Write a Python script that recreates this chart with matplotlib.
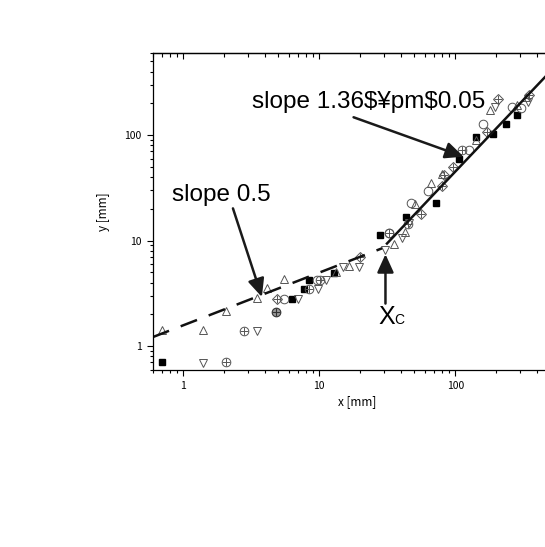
import numpy as np
import matplotlib
matplotlib.use("Agg")
import matplotlib.pyplot as plt
from matplotlib.ticker import FixedLocator, LogLocator, NullFormatter

plt.rcParams['font.family'] = ['Noto Sans CJK JP', 'DejaVu Sans']

# data (x, y in mm)
sq_x = [0.70, 6.3, 7.7, 8.4, 12.8, 27.8, 43.4, 72, 106, 142, 189, 235, 283]
sq_y = [0.70, 2.82, 3.5, 4.2, 4.9, 11.2, 16.8, 22.5, 59, 95, 102, 127, 155]

tri_up_x = [0.70, 1.40, 2.08, 3.5, 4.14, 5.54, 13.4, 16.7, 35.6, 42.9, 50.8, 66.5, 80, 142, 180, 283, 330]
tri_up_y = [1.43, 1.43, 2.14, 2.86, 3.59, 4.3, 5.0, 5.7, 9.2, 12.1, 22.2, 34.8, 43, 90, 173, 193, 232]

tri_dn_x = [1.40, 3.5, 7.0, 9.8, 11.2, 15.1, 19.5, 30.6, 40.5, 46, 194, 339]
tri_dn_y = [0.69, 1.39, 2.8, 3.5, 4.2, 5.6, 5.6, 8.2, 10.5, 14.7, 186, 208]

circ_x = [5.54, 9.6, 32.4, 47.2, 63, 125, 161, 260, 306]
circ_y = [2.82, 4.2, 11.8, 22.5, 29.5, 73, 127, 186, 180]

ocross_x = [2.08, 2.79, 8.4, 10.2, 32.4, 45.3, 112]
ocross_y = [0.70, 1.39, 3.5, 4.2, 11.8, 14.5, 73]
ocross_fill_x = [4.84]
ocross_fill_y = [2.1]

dcross_x = [4.9, 20, 55.8, 80, 82, 96, 171, 207, 345]
dcross_y = [2.78, 7.0, 17.7, 32.9, 41.8, 50, 108, 219, 240]

# fitted power laws
slope_low = 0.5
coef_low = 1.57
x_low = [0.6, 29]
slope_high = 1.36
x_c, y_c = 31.5, 9.38
x_high = [31.5, 600]

xlim = (0.6, 600)
ylim = (0.6, 600)
decades = [1, 10, 100]

fig = plt.figure(figsize=(5.45, 5.47), dpi=100)
ax = fig.add_axes([152.7 / 545, 177.5 / 547, 408.6 / 545, 316.5 / 547])
ax.set_xscale('log')
ax.set_yscale('log')
ax.set_xlim(*xlim)
ax.set_ylim(*ylim)

gray = '#555555'
ms = 6.2
ax.plot(sq_x, sq_y, 's', ms=5, mfc='black', mec='black', ls='none')
ax.plot(tri_up_x, tri_up_y, '^', ms=ms, mfc='none', mec=gray, mew=0.7, ls='none')
ax.plot(tri_dn_x, tri_dn_y, 'v', ms=ms, mfc='none', mec=gray, mew=0.7, ls='none')
ax.plot(circ_x, circ_y, 'o', ms=ms, mfc='none', mec=gray, mew=0.7, ls='none')
ax.plot(ocross_x, ocross_y, 'o', ms=ms, mfc='none', mec=gray, mew=0.7, ls='none')
ax.plot(ocross_x, ocross_y, '+', ms=ms, mec=gray, mew=0.7, ls='none')
ax.plot(ocross_fill_x, ocross_fill_y, 'o', ms=ms, mfc='#999999', mec='#333333', mew=0.8, ls='none')
ax.plot(ocross_fill_x, ocross_fill_y, '+', ms=ms, mec='#333333', mew=0.8, ls='none')
ax.plot(dcross_x, dcross_y, 'D', ms=5.2, mfc='none', mec=gray, mew=0.7, ls='none')
ax.plot(dcross_x, dcross_y, '+', ms=ms, mec=gray, mew=0.7, ls='none')

xl = np.array(x_low)
ax.plot(xl, coef_low * xl ** slope_low, color='#111111', lw=1.8, ls=(0, (7, 5)))
xh = np.array(x_high)
ax.plot(xh, y_c * (xh / x_c) ** slope_high, color='#111111', lw=1.8)

label_font = ['Liberation Sans', 'DejaVu Sans']
arrow = dict(arrowstyle='-|>,head_length=0.55,head_width=0.25', lw=1.8,
             color='#1a1a1a', mutation_scale=20, shrinkA=0, shrinkB=0)
ax.text(1.93, 27.0, 'slope 0.5', fontsize=17.5, ha='center', va='center',
        family=label_font)
ax.annotate('', xy=(3.80, 2.92), xytext=(2.33, 20.2), arrowprops=arrow)
ax.text(22.9, 206, 'slope 1.36$¥pm$0.05', fontsize=17.5, ha='center', va='center',
        family=label_font, parse_math=False)
ax.annotate('', xy=(115, 62.4), xytext=(17.9, 147.6), arrowprops=arrow)
ax.text(31.5, 1.89, 'X', fontsize=18, ha='center', va='center', family=label_font)
ax.text(35.8, 1.76, 'C', fontsize=10, ha='left', va='center', family=label_font)
ax.annotate('', xy=(30.7, 7.43), xytext=(30.7, 2.53), arrowprops=arrow)

# ticks
for axis in (ax.xaxis, ax.yaxis):
    axis.set_major_locator(FixedLocator(decades))
    axis.set_minor_locator(LogLocator(base=10, subs=np.arange(2, 10)))
    axis.set_minor_formatter(NullFormatter())
ax.set_xticklabels([str(d) for d in decades])
ax.set_yticklabels([str(d) for d in decades])
ax.tick_params(which='both', direction='out', top=False, right=False, labelsize=7.5, width=0.8)
ax.tick_params(which='major', length=4.5)
ax.tick_params(which='minor', length=2.5)
for s in ax.spines.values():
    s.set_linewidth(0.9)

# mirrored inward ticks on the top spine
top = ax.secondary_xaxis('top')
top.xaxis.set_major_locator(FixedLocator(decades))
top.xaxis.set_minor_locator(LogLocator(base=10, subs=np.arange(2, 10)))
top.xaxis.set_minor_formatter(NullFormatter())
top.tick_params(which='both', direction='in', labeltop=False, width=0.8)
top.tick_params(which='major', length=4.5)
top.tick_params(which='minor', length=3)
top.spines['top'].set_linewidth(0.9)

ax.set_xlabel('x [mm]', fontsize=8.5, labelpad=3)
ax.set_ylabel('y [mm]', fontsize=8.5, labelpad=10)

fig.savefig('out.png', dpi=100)
